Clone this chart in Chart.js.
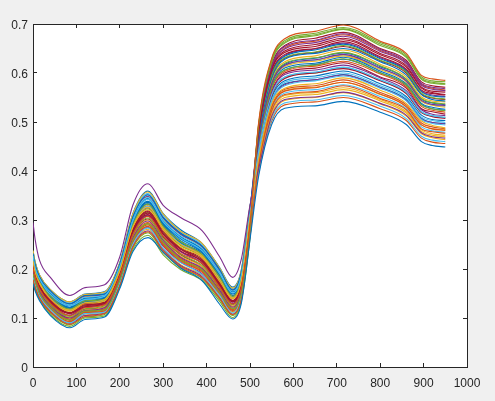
<!DOCTYPE html>
<html><head><meta charset="utf-8">
<style>html,body{margin:0;padding:0;background:#f0f0f0}canvas{display:block}</style>
<script src="https://cdn.jsdelivr.net/npm/chart.js@4"></script></head>
<body><canvas id="c" width="495" height="401"></canvas>
<script>
const wavelengths=[0,5,15,40,85,120,165,200,230,265,300,340,390,430,460,480,500,520,550,580,650,715,800,860,895,920,950];
const xTickValues=[0,100,200,300,400,500,600,700,800,900,1000];
const yTickValues=[0,0.1,0.2,0.3,0.4,0.5,0.6,0.7];
const s01=[.170,.155,.135,.105,.080,.097,.102,.160,.235,.264,.234,.202,.176,.128,.098,.130,.260,.390,.495,.528,.533,.542,.520,.495,.460,.452,.449];
const s02=[.201,.184,.159,.130,.105,.121,.127,.186,.270,.307,.267,.232,.211,.163,.128,.162,.292,.500,.630,.670,.685,.698,.665,.640,.595,.588,.585];
const s03=[.216,.193,.172,.140,.116,.131,.138,.197,.286,.326,.283,.250,.226,.179,.141,.176,.305,.425,.537,.569,.578,.590,.565,.538,.502,.493,.488];
const s04=[.295,.260,.218,.183,.146,.162,.168,.225,.330,.374,.330,.305,.278,.225,.183,.220,.330,.405,.512,.546,.551,.561,.538,.514,.478,.470,.467];
const s05=[.190,.175,.150,.122,.096,.114,.117,.177,.258,.292,.254,.219,.198,.152,.119,.150,.282,.493,.622,.661,.676,.689,.656,.632,.587,.579,.577];
const s06=[.227,.202,.180,.148,.125,.138,.145,.205,.298,.342,.296,.264,.237,.191,.151,.187,.315,.441,.556,.592,.602,.612,.586,.561,.521,.513,.510];
const s07=[.208,.188,.165,.136,.110,.127,.131,.190,.279,.317,.274,.241,.218,.171,.135,.169,.298,.478,.605,.642,.654,.668,.637,.612,.569,.560,.556];
const s08=[.232,.210,.184,.156,.129,.146,.149,.211,.306,.351,.305,.273,.246,.199,.157,.194,.322,.468,.589,.628,.640,.650,.623,.596,.556,.546,.543];
const s09=[.178,.163,.141,.112,.087,.103,.109,.166,.245,.276,.237,.205,.182,.140,.107,.139,.268,.412,.523,.556,.562,.574,.548,.525,.486,.480,.477];
const s10=[.238,.214,.188,.158,.133,.148,.153,.213,.312,.357,.312,.277,.252,.202,.161,.197,.327,.403,.511,.544,.550,.560,.537,.512,.476,.468,.464];
const s11=[.195,.177,.154,.124,.100,.115,.121,.180,.263,.298,.258,.224,.201,.157,.122,.155,.285,.458,.578,.616,.627,.638,.610,.584,.544,.536,.534];
const s12=[.218,.198,.173,.145,.118,.135,.138,.200,.290,.332,.287,.256,.229,.184,.144,.180,.308,.451,.570,.606,.616,.629,.600,.576,.535,.527,.523];
const s13=[.184,.168,.145,.117,.090,.109,.112,.172,.250,.284,.242,.213,.188,.146,.110,.145,.273,.431,.544,.581,.590,.600,.574,.549,.510,.503,.499];
const s14=[.206,.184,.164,.132,.109,.123,.130,.187,.276,.311,.271,.237,.215,.167,.133,.164,.296,.480,.607,.645,.658,.671,.640,.615,.571,.563,.561];
const s15=[.224,.202,.177,.148,.122,.139,.142,.204,.296,.338,.294,.262,.236,.189,.150,.184,.314,.454,.572,.610,.620,.632,.604,.578,.538,.530,.526];
const s16=[.189,.171,.150,.120,.095,.112,.117,.175,.257,.290,.250,.218,.195,.151,.117,.150,.279,.418,.530,.563,.570,.581,.557,.531,.494,.486,.483];
const s17=[.213,.190,.169,.137,.114,.128,.135,.192,.284,.321,.280,.245,.223,.174,.139,.171,.303,.464,.586,.623,.635,.647,.618,.592,.551,.543,.541];
const s18=[.181,.165,.142,.113,.089,.105,.110,.168,.247,.278,.239,.207,.184,.141,.108,.141,.270,.442,.560,.597,.606,.616,.590,.564,.525,.516,.513];
const s19=[.199,.180,.158,.128,.103,.119,.125,.183,.269,.304,.262,.230,.207,.162,.127,.159,.290,.470,.594,.631,.643,.656,.626,.602,.559,.550,.547];
const s20=[.229,.206,.182,.153,.127,.142,.147,.207,.303,.346,.300,.268,.242,.194,.155,.189,.320,.426,.540,.574,.584,.594,.569,.543,.505,.497,.494];
const s21=[.211,.191,.166,.138,.111,.129,.132,.192,.281,.319,.278,.243,.221,.173,.136,.171,.299,.436,.553,.589,.600,.609,.584,.558,.519,.511,.507];
const s22=[.220,.197,.175,.142,.120,.133,.141,.198,.293,.333,.290,.254,.232,.184,.146,.178,.310,.473,.597,.634,.647,.659,.629,.604,.562,.553,.551];
const s23=[.188,.172,.147,.120,.093,.111,.114,.174,.255,.287,.248,.216,.193,.148,.115,.148,.278,.447,.567,.603,.614,.624,.598,.572,.532,.524,.520];
const s24=[.197,.178,.156,.125,.101,.116,.123,.181,.265,.300,.260,.226,.204,.158,.124,.156,.286,.410,.520,.554,.560,.570,.546,.521,.484,.476,.473];
const s25=[.231,.208,.183,.155,.128,.145,.148,.209,.305,.348,.304,.271,.245,.196,.157,.192,.322,.484,.610,.649,.662,.675,.644,.619,.575,.567,.564];
const s26=[.173,.158,.138,.107,.083,.100,.104,.163,.239,.269,.229,.199,.176,.134,.101,.134,.263,.461,.582,.620,.631,.642,.615,.588,.548,.540,.537];
const s27=[.215,.194,.171,.141,.117,.132,.137,.197,.288,.328,.284,.252,.226,.180,.142,.177,.306,.399,.506,.539,.545,.554,.532,.507,.471,.463,.460];
const s28=[.206,.186,.165,.134,.109,.125,.130,.189,.276,.314,.271,.240,.215,.169,.133,.167,.296,.476,.600,.638,.650,.664,.633,.608,.565,.558,.555];
const s29=[.221,.200,.177,.145,.121,.136,.141,.201,.295,.336,.292,.258,.234,.187,.149,.182,.312,.433,.549,.584,.594,.604,.578,.552,.514,.505,.503];
const s30=[.193,.175,.152,.123,.098,.114,.119,.178,.261,.295,.255,.222,.199,.155,.120,.153,.283,.421,.533,.567,.574,.586,.560,.535,.498,.490,.486];
const s31=[.183,.167,.144,.115,.091,.106,.112,.170,.249,.281,.241,.209,.187,.143,.112,.143,.272,.456,.577,.613,.624,.635,.607,.582,.542,.534,.530];
const s32=[.203,.184,.161,.132,.106,.123,.127,.187,.273,.310,.267,.235,.212,.166,.130,.164,.294,.487,.614,.654,.667,.680,.648,.623,.579,.571,.568];
const s33=[.213,.193,.170,.139,.115,.129,.135,.194,.285,.323,.281,.248,.224,.177,.140,.174,.303,.494,.625,.663,.678,.690,.659,.634,.589,.581,.578];
const s34=[.236,.212,.187,.157,.132,.147,.152,.212,.310,.354,.309,.276,.250,.201,.160,.196,.327,.414,.525,.559,.566,.576,.552,.527,.490,.482,.479];
const s35=[.202,.182,.160,.131,.105,.122,.128,.185,.272,.308,.265,.236,.210,.165,.129,.163,.292,.445,.562,.600,.610,.621,.592,.569,.527,.521,.516];
const s36=[.228,.205,.179,.151,.125,.141,.146,.205,.301,.344,.298,.266,.240,.192,.153,.188,.317,.460,.581,.618,.630,.641,.613,.587,.547,.539,.535];
const s37=[.218,.197,.172,.145,.118,.134,.140,.199,.290,.329,.286,.254,.227,.182,.143,.177,.308,.485,.612,.651,.665,.678,.646,.621,.577,.569,.565];
const s38=[.232,.208,.183,.154,.128,.144,.148,.208,.306,.348,.303,.271,.244,.195,.157,.191,.321,.407,.516,.550,.556,.566,.543,.518,.481,.473,.470];
const s39=[.186,.170,.147,.118,.092,.109,.115,.172,.253,.285,.246,.214,.190,.148,.113,.147,.275,.428,.541,.576,.586,.596,.570,.544,.506,.499,.496];
const s40=[.209,.187,.166,.135,.111,.126,.132,.190,.279,.315,.274,.243,.218,.170,.135,.168,.298,.497,.628,.666,.681,.693,.662,.637,.592,.584,.582];
const s41=[.235,.213,.186,.157,.131,.147,.151,.212,.309,.353,.310,.276,.249,.201,.160,.195,.325,.440,.555,.592,.601,.611,.585,.559,.521,.512,.509];
const s42=[.197,.180,.155,.127,.101,.118,.122,.182,.266,.302,.260,.229,.204,.160,.124,.158,.288,.490,.617,.656,.671,.683,.650,.626,.582,.574,.571];
const s43=[.227,.204,.180,.150,.126,.140,.146,.206,.299,.343,.299,.265,.239,.192,.154,.188,.319,.451,.569,.606,.617,.628,.601,.575,.536,.527,.524];
const s44=[.191,.173,.152,.121,.097,.114,.118,.177,.259,.293,.252,.220,.197,.153,.118,.151,.281,.396,.502,.535,.541,.550,.527,.503,.467,.459,.456];
const s45=[.220,.199,.175,.144,.120,.135,.140,.200,.293,.333,.289,.255,.231,.184,.146,.180,.310,.418,.529,.564,.571,.581,.556,.532,.494,.486,.484];
const s46=[.234,.210,.185,.156,.130,.145,.150,.210,.308,.352,.306,.274,.247,.198,.159,.194,.324,.474,.598,.636,.649,.661,.631,.606,.563,.555,.552];
const s47=[.177,.161,.140,.110,.086,.102,.107,.165,.243,.274,.234,.203,.180,.138,.105,.137,.267,.438,.555,.591,.600,.611,.585,.559,.520,.512,.509];
const s48=[.224,.201,.178,.147,.122,.138,.143,.203,.296,.338,.295,.261,.236,.188,.149,.184,.314,.458,.577,.615,.626,.637,.609,.584,.543,.535,.532];
const s49=[.215,.195,.170,.141,.115,.131,.136,.195,.287,.325,.282,.250,.225,.178,.141,.175,.304,.469,.592,.630,.642,.654,.625,.600,.557,.549,.546];
const s50=[.237,.214,.188,.158,.133,.149,.154,.213,.313,.359,.313,.280,.252,.203,.163,.198,.328,.428,.543,.578,.586,.597,.571,.546,.508,.499,.497];
const allSeries=[s01,s02,s03,s04,s05,s06,s07,s08,s09,s10,s11,s12,s13,s14,s15,s16,s17,s18,s19,s20,s21,s22,s23,s24,s25,s26,s27,s28,s29,s30,s31,s32,s33,s34,s35,s36,s37,s38,s39,s40,s41,s42,s43,s44,s45,s46,s47,s48,s49,s50];
const lineColors=['#0072BD','#D95319','#EDB120','#7E2F8E','#77AC30','#4DBEEE','#A2142F'];
const axisColor='#262626';
const font={family:'"Liberation Sans",Arial,sans-serif',size:12};
const whitePlot={id:'whitePlot',beforeDraw(ch){const a=ch.chartArea,c=ch.ctx;c.save();c.fillStyle='#fff';c.fillRect(a.left,a.top,a.width,a.height);c.restore();}};
function axis(pos,min,max,size,labels,pad,off){
  const horiz=pos==='bottom'||pos==='top';
  return {type:'linear',position:pos,min,max,
    afterFit(s){if(horiz)s.height=size;else s.width=size;},
    border:{display:true,color:axisColor,width:1},
    grid:{drawOnChartArea:false,drawTicks:true,tickLength:-4,tickColor:axisColor,tickWidth:1},
    afterBuildTicks(s){s.ticks=(horiz?xTickValues:yTickValues).map(v=>({value:v}));},
    ticks:{display:labels,autoSkip:false,maxRotation:0,minRotation:0,color:axisColor,font,padding:pad,labelOffset:off,
      callback:v=>String(v)}};
}
new Chart(document.getElementById('c'),{
  type:'line',
  data:{datasets:allSeries.map((vals,i)=>({
    data:vals.map((y,j)=>({x:wavelengths[j],y})),
    borderColor:lineColors[i%7],borderWidth:1.1,pointRadius:0,cubicInterpolationMode:'monotone',fill:false,
    xAxisID:'x',yAxisID:'y'}))},
  plugins:[whitePlot],
  options:{responsive:false,animation:false,devicePixelRatio:1,
    layout:{padding:{left:0,top:24,right:28,bottom:0}},
    plugins:{legend:{display:false},tooltip:{enabled:false}},
    scales:{
      x:axis('bottom',0,1000,34,true,13,0),
      y:axis('left',0,0.7,33,true,9,2),
      x2:axis('top',0,1000,0,false,0,0),
      y2:axis('right',0,0.7,0,false,0,0)
    }}
});
</script></body></html>
